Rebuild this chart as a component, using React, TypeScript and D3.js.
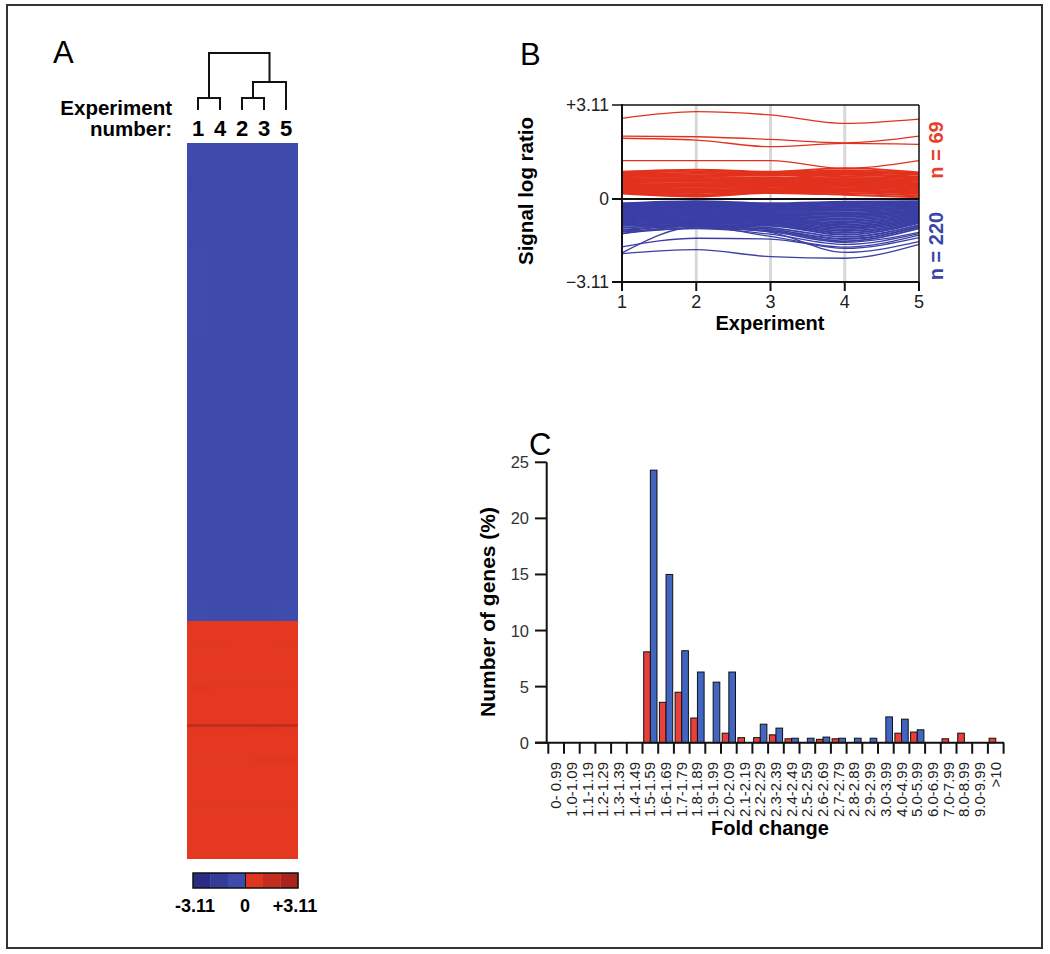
import React from "react";
import * as d3 from "d3";

const FONT = '"Liberation Sans", Arial, Helvetica, sans-serif';
const NARROW = '"Liberation Sans Narrow", "Liberation Sans", Arial, sans-serif';

// ---------- Panel A data ----------
const heatCols = ["1", "4", "2", "3", "5"];
type Tree = { name?: string; h: number; children?: Tree[] };
const dendrogram: Tree = {
  h: 1.0,
  children: [
    { h: 0.21, children: [{ name: "1", h: 0 }, { name: "4", h: 0 }] },
    {
      h: 0.49,
      children: [
        { h: 0.21, children: [{ name: "2", h: 0 }, { name: "3", h: 0 }] },
        { name: "5", h: 0 },
      ],
    },
  ],
};
const blueRowGroups = [
  { v: [-0.52, -0.52, -0.5, -0.52, -0.52], n: 18 },
  { v: [-0.58, -0.55, -0.52, -0.56, -0.52], n: 4 },
  { v: [-0.5, -0.52, -0.5, -0.5, -0.52], n: 24 },
  { v: [-0.6, -0.62, -0.5, -0.55, -0.58], n: 3 },
  { v: [-0.48, -0.5, -0.52, -0.5, -0.5], n: 40 },
  { v: [-0.55, -0.52, -0.5, -0.58, -0.55], n: 5 },
  { v: [-0.5, -0.5, -0.5, -0.52, -0.5], n: 60 },
  { v: [-0.56, -0.54, -0.52, -0.55, -0.55], n: 4 },
  { v: [-0.5, -0.52, -0.5, -0.5, -0.5], n: 50 },
  { v: [-0.55, -0.5, -0.52, -0.54, -0.52], n: 4 },
  { v: [-0.48, -0.5, -0.5, -0.5, -0.48], n: 8 },
];
const redRowGroups = [
  { v: [0.32, 0.3, 0.3, 0.32, 0.3], n: 6 },
  { v: [0.36, 0.34, 0.32, 0.3, 0.34], n: 2 },
  { v: [0.3, 0.3, 0.32, 0.3, 0.32], n: 10 },
  { v: [0.4, 0.36, 0.34, 0.38, 0.36], n: 2 },
  { v: [0.3, 0.32, 0.3, 0.3, 0.3], n: 10 },
  { v: [1.6, 1.5, 1.55, 1.6, 1.5], n: 1 },
  { v: [0.36, 0.34, 0.36, 0.4, 0.36], n: 1 },
  { v: [0.3, 0.3, 0.3, 0.32, 0.3], n: 8 },
  { v: [0.38, 0.36, 0.34, 0.4, 0.42], n: 1 },
  { v: [0.3, 0.32, 0.3, 0.3, 0.3], n: 12 },
  { v: [0.36, 0.34, 0.34, 0.36, 0.34], n: 2 },
  { v: [0.3, 0.3, 0.3, 0.32, 0.3], n: 14 },
];
const colorbarSteps = [-2.59, -1.55, -0.52, 0.52, 1.55, 2.59];
const colorbarLabels = [
  { v: -3.11, t: "-3.11" },
  { v: 0, t: "0" },
  { v: 3.11, t: "+3.11" },
];

// ---------- Panel B data ----------
const experiments = [1, 2, 3, 4, 5];
const redOutliers = [
  [2.67, 2.89, 2.78, 2.5, 2.64],
  [2.08, 2.06, 1.97, 1.86, 2.08],
  [2.01, 1.95, 1.73, 1.84, 1.81],
  [1.27, 1.27, 1.27, 1.01, 1.27],
];
const redBand = [
  [0.9, 0.97, 0.9, 1.02, 0.88],
  [0.86, 0.92, 0.87, 0.95, 0.85],
  [0.83, 0.86, 0.84, 0.9, 0.8],
  [0.8, 0.83, 0.8, 0.86, 0.82],
  [0.76, 0.78, 0.77, 0.82, 0.74],
  [0.72, 0.75, 0.7, 0.8, 0.7],
  [0.69, 0.7, 0.68, 0.74, 0.66],
  [0.65, 0.66, 0.64, 0.7, 0.62],
  [0.62, 0.6, 0.62, 0.66, 0.6],
  [0.58, 0.57, 0.58, 0.62, 0.55],
  [0.55, 0.52, 0.54, 0.6, 0.52],
  [0.51, 0.48, 0.5, 0.56, 0.48],
  [0.48, 0.45, 0.47, 0.52, 0.44],
  [0.44, 0.4, 0.44, 0.48, 0.4],
  [0.41, 0.36, 0.4, 0.44, 0.37],
  [0.37, 0.32, 0.36, 0.4, 0.33],
  [0.34, 0.28, 0.33, 0.36, 0.3],
  [0.3, 0.24, 0.3, 0.32, 0.26],
  [0.27, 0.2, 0.27, 0.28, 0.22],
  [0.24, 0.15, 0.24, 0.25, 0.17],
  [0.21, 0.1, 0.22, 0.2, 0.12],
  [0.18, 0.08, 0.2, 0.14, 0.06],
];
const blueBand = [
  [-0.16, -0.08, -0.16, -0.1, -0.08],
  [-0.2, -0.1, -0.19, -0.13, -0.1],
  [-0.24, -0.12, -0.22, -0.16, -0.12],
  [-0.28, -0.15, -0.26, -0.2, -0.15],
  [-0.31, -0.19, -0.3, -0.25, -0.19],
  [-0.35, -0.23, -0.33, -0.29, -0.22],
  [-0.38, -0.27, -0.37, -0.34, -0.26],
  [-0.42, -0.31, -0.41, -0.39, -0.3],
  [-0.45, -0.35, -0.44, -0.44, -0.33],
  [-0.49, -0.39, -0.48, -0.5, -0.37],
  [-0.52, -0.43, -0.52, -0.55, -0.41],
  [-0.56, -0.47, -0.55, -0.6, -0.44],
  [-0.59, -0.51, -0.59, -0.66, -0.48],
  [-0.63, -0.55, -0.63, -0.72, -0.52],
  [-0.66, -0.59, -0.66, -0.78, -0.55],
  [-0.7, -0.63, -0.7, -0.84, -0.59],
  [-0.73, -0.67, -0.74, -0.9, -0.63],
  [-0.77, -0.71, -0.77, -0.96, -0.66],
  [-0.8, -0.75, -0.81, -1.02, -0.7],
  [-0.84, -0.79, -0.85, -1.08, -0.74],
  [-0.88, -0.83, -0.88, -1.14, -0.78],
  [-0.92, -0.88, -0.92, -1.2, -0.82],
  [-0.96, -0.92, -0.96, -1.27, -0.86],
  [-1.0, -0.97, -1.0, -1.34, -0.9],
  [-1.08, -0.98, -1.08, -1.42, -0.98],
  [-1.15, -1.02, -1.14, -1.5, -1.04],
  [-1.22, -1.1, -1.2, -1.58, -1.1],
];
const blueOutliers = [
  [-2.05, -1.9, -2.16, -2.22, -1.7],
  [-2.02, -1.05, -1.25, -2.0, -1.6],
  [-1.79, -1.47, -1.5, -1.85, -1.45],
  [-1.31, -1.02, -1.4, -1.8, -1.35],
  [-1.22, -0.92, -1.22, -1.62, -1.25],
  [-1.28, -1.1, -1.32, -1.7, -1.3],
];
const signalTicks = [
  { v: 3.11, t: "+3.11" },
  { v: 0, t: "0" },
  { v: -3.11, t: "\u22123.11" },
];

// ---------- Panel C data ----------
const foldLabels = [
  "0- 0.99", "1.0-1.09", "1.1-1.19", "1.2-1.29", "1.3-1.39", "1.4-1.49",
  "1.5-1.59", "1.6-1.69", "1.7-1.79", "1.8-1.89", "1.9-1.99", "2.0-2.09",
  "2.1-2.19", "2.2-2.29", "2.3-2.39", "2.4-2.49", "2.5-2.59", "2.6-2.69",
  "2.7-2.79", "2.8-2.89", "2.9-2.99", "3.0-3.99", "4.0-4.99", "5.0-5.99",
  "6.0-6.99", "7.0-7.99", "8.0-8.99", "9.0-9.99", ">10",
];
const upPct = [0, 0, 0, 0, 0, 0, 8.1, 3.6, 4.5, 2.2, 0, 0.85, 0.45, 0.45, 0.7, 0.35, 0, 0.3, 0.35, 0, 0, 0, 0.85, 0.95, 0, 0.35, 0.85, 0, 0.4];
const downPct = [0, 0, 0, 0, 0, 0, 24.3, 15.0, 8.2, 6.3, 5.4, 6.3, 0, 1.65, 1.3, 0.4, 0.4, 0.5, 0.4, 0.4, 0.4, 2.3, 2.1, 1.15, 0, 0, 0, 0, 0];
const pctTicks = [0, 5, 10, 15, 20, 25];
const seriesKeys = ["up", "down"];

const RED = "#e2321e";
const BLUE = "#3b3fa5";

function layoutTree(node: Tree, xOf: (n: string) => number): any {
  if (!node.children) return { x: xOf(node.name!), h: node.h, kids: [] };
  const kids = node.children.map((c) => layoutTree(c, xOf));
  return { x: d3.mean(kids, (k: any) => k.x), h: node.h, kids };
}
function collect(n: any, out: any[]) {
  if (n.kids.length) {
    out.push(n);
    n.kids.forEach((k: any) => collect(k, out));
  }
  return out;
}

export default function App() {
  // ---- Panel A ----
  const colX = d3.scaleBand<string>().domain(heatCols).range([187, 297]);
  const cx = (n: string) => (colX(n) as number) + colX.bandwidth() / 2;
  const dendY = d3.scaleLinear().domain([0, 1]).range([110, 53]);
  const tree = layoutTree(dendrogram, cx);
  const internal = collect(tree, []);

  const heatColor = d3
    .scaleLinear<string>()
    .domain([-3.11, -0.001, 0.001, 3.11])
    .range(["#26237a", "#4453b6", "#ec3b20", "#9a1f1c"]);
  const blueTotal = d3.sum(blueRowGroups, (g) => g.n);
  const redTotal = d3.sum(redRowGroups, (g) => g.n);
  const blueY = d3.scaleLinear().domain([0, blueTotal]).range([143, 621]);
  const redY = d3.scaleLinear().domain([0, redTotal]).range([621, 858]);
  const rowRects = (groups: typeof blueRowGroups, ys: d3.ScaleLinear<number, number>, key: string) => {
    let cum = 0;
    const out: JSX.Element[] = [];
    groups.forEach((g, gi) => {
      const y0 = ys(cum);
      const y1 = ys(cum + g.n);
      cum += g.n;
      g.v.forEach((val, ci) => {
        out.push(
          <rect
            key={`${key}-${gi}-${ci}`}
            x={colX(heatCols[ci])}
            y={y0}
            width={colX.bandwidth() + 0.5}
            height={y1 - y0 + 0.5}
            fill={heatColor(val)}
          />
        );
      });
    });
    return out;
  };
  const cbX = d3.scaleBand<number>().domain(colorbarSteps).range([193, 298]);
  const cbLin = d3.scaleLinear().domain([-3.11, 3.11]).range([195, 295]);

  // ---- Panel B ----
  const bx = d3.scaleLinear().domain([1, 5]).range([622, 919]);
  const by = d3.scaleLinear().domain([-3.11, 0, 3.11]).range([282, 199, 105]);
  const line = d3
    .line<number>()
    .x((_, i) => bx(experiments[i]))
    .y((d) => by(d))
    .curve(d3.curveMonotoneX);

  // ---- Panel C ----
  const cx0 = d3.scaleBand<string>().domain(foldLabels).range([548.3, 1003.6]).padding(0);
  const cx1 = d3.scaleBand<string>().domain(seriesKeys).range([1.2, cx0.bandwidth() - 1.2]).padding(0);
  const cy = d3.scaleLinear().domain([0, 25]).range([742.7, 462.3]);
  const bars: { k: string; cat: string; v: number }[] = [];
  foldLabels.forEach((c, i) => {
    if (upPct[i] > 0) bars.push({ k: "up", cat: c, v: upPct[i] });
    if (downPct[i] > 0) bars.push({ k: "down", cat: c, v: downPct[i] });
  });

  return (
    <svg
      width={1050}
      height={954}
      style={{ position: "absolute", left: 0, top: 0, background: "#fff" }}
      fontFamily={FONT}
    >
      <rect x={0} y={0} width={1050} height={954} fill="#fff" />
      <rect x={7} y={5} width={1035} height={943} fill="none" stroke="#333" strokeWidth={2} />

      {/* Panel labels */}
      <text x={53} y={63} fontFamily={NARROW} fontSize={31}>A</text>
      <text x={520} y={65} fontFamily={NARROW} fontSize={31}>B</text>
      <text x={529} y={455} fontFamily={NARROW} fontSize={31}>C</text>

      {/* ---- Panel A ---- */}
      <g fill="none" stroke="#111" strokeWidth={2}>
        {internal.map((n: any, i: number) => (
          <g key={i}>
            <line x1={n.kids[0].x} x2={n.kids[1].x} y1={dendY(n.h)} y2={dendY(n.h)} />
            {n.kids.map((k: any, j: number) => (
              <line key={j} x1={k.x} x2={k.x} y1={dendY(k.h)} y2={dendY(n.h) - 1} />
            ))}
          </g>
        ))}
      </g>
      <text x={172} y={115} textAnchor="end" fontWeight="bold" fontSize={20.5}>Experiment</text>
      <text x={172} y={136} textAnchor="end" fontWeight="bold" fontSize={20.5}>number:</text>
      {heatCols.map((c) => (
        <text key={c} x={cx(c)} y={136} textAnchor="middle" fontWeight="bold" fontSize={22}>
          {c}
        </text>
      ))}
      <g shapeRendering="crispEdges">
        {rowRects(blueRowGroups, blueY, "b")}
        {rowRects(redRowGroups, redY, "r")}
      </g>
      {/* colorbar */}
      <g>
        {colorbarSteps.map((s) => (
          <rect key={s} x={cbX(s)} y={873} width={cbX.bandwidth() + 0.3} height={15} fill={heatColor(s)} />
        ))}
        <rect x={193} y={873} width={105} height={15} fill="none" stroke="#111" strokeWidth={1.5} />
        <line x1={245.5} x2={245.5} y1={873} y2={888} stroke="#111" strokeWidth={1} />
        {colorbarLabels.map((l) => (
          <text key={l.t} x={cbLin(l.v)} y={912} textAnchor="middle" fontWeight="bold" fontSize={18}>
            {l.t}
          </text>
        ))}
      </g>

      {/* ---- Panel B ---- */}
      <g>
        {[2, 3, 4].map((e) => (
          <line key={e} x1={bx(e)} x2={bx(e)} y1={105} y2={282} stroke="#d8d8d8" strokeWidth={3} />
        ))}
        <g fill="none" strokeWidth={1.9}>
          {redBand.map((d, i) => (
            <path key={"rb" + i} d={line(d) as string} stroke={RED} />
          ))}
          {redOutliers.map((d, i) => (
            <path key={"ro" + i} d={line(d) as string} stroke={RED} strokeWidth={1.3} />
          ))}
          {blueBand.map((d, i) => (
            <path key={"bb" + i} d={line(d) as string} stroke={BLUE} />
          ))}
          {blueOutliers.map((d, i) => (
            <path key={"bo" + i} d={line(d) as string} stroke={BLUE} strokeWidth={1.3} />
          ))}
        </g>
        <g stroke="#111" strokeWidth={2} fill="none">
          <line x1={622} x2={622} y1={104} y2={283} />
          <line x1={612} x2={919} y1={282} y2={282} />
          <line x1={612} x2={919} y1={199} y2={199} />
          <line x1={612} x2={919} y1={105} y2={105} strokeWidth={1.5} />
          <line x1={919} x2={919} y1={105} y2={282} strokeWidth={1.5} />
          {experiments.map((e) => (
            <line key={e} x1={bx(e)} x2={bx(e)} y1={282} y2={291} />
          ))}
        </g>
        {signalTicks.map((t) => (
          <text key={t.t} x={609} y={by(t.v) + 6} textAnchor="end" fontSize={17.5} fill="#222">
            {t.t}
          </text>
        ))}
        {experiments.map((e) => (
          <text key={e} x={bx(e)} y={308} textAnchor="middle" fontSize={18} fill="#222">
            {e}
          </text>
        ))}
        <text x={770} y={330} textAnchor="middle" fontWeight="bold" fontSize={20}>Experiment</text>
        <text
          transform={`translate(533,191) rotate(-90)`}
          textAnchor="middle"
          fontWeight="bold"
          fontSize={20.5}
        >
          Signal log ratio
        </text>
        <text transform={`translate(943,150) rotate(-90)`} textAnchor="middle" fontWeight="bold" fontSize={20} fill="#e8402a">
          n = 69
        </text>
        <text transform={`translate(943,246) rotate(-90)`} textAnchor="middle" fontWeight="bold" fontSize={20} fill="#3a46a8">
          n = 220
        </text>
      </g>

      {/* ---- Panel C ---- */}
      <g>
        {bars.map((b, i) => (
          <rect
            key={i}
            x={(cx0(b.cat) as number) + (cx1(b.k) as number)}
            y={cy(b.v)}
            width={cx1.bandwidth()}
            height={cy(0) - cy(b.v)}
            fill={b.k === "up" ? "#e8403a" : "#4265c2"}
            stroke="#111"
            strokeWidth={1}
          />
        ))}
        <g stroke="#111" strokeWidth={2}>
          <line x1={546.7} x2={546.7} y1={cy(25)} y2={cy(0) + 1} />
          <line x1={535} x2={1004} y1={cy(0)} y2={cy(0)} />
          {pctTicks.map((t) => (
            <line key={t} x1={535} x2={546.7} y1={cy(t)} y2={cy(t)} />
          ))}
          {[...foldLabels.map((c) => cx0(c) as number), 1003.6].map((x, i) => (
            <line key={i} x1={x} x2={x} y1={cy(0)} y2={cy(0) + 11} />
          ))}
        </g>
        {pctTicks.map((t) => (
          <text key={t} x={529} y={cy(t) + 6} textAnchor="end" fontSize={16.5} fill="#333">
            {t}
          </text>
        ))}
        {foldLabels.map((c) => (
          <text
            key={c}
            transform={`translate(${(cx0(c) as number) + cx0.bandwidth() / 2 + 5},${762}) rotate(-90)`}
            textAnchor="end"
            fontSize={15}
            fill="#222"
          >
            {c}
          </text>
        ))}
        <text x={770} y={835} textAnchor="middle" fontWeight="bold" fontSize={20}>Fold change</text>
        <text
          transform={`translate(495,612) rotate(-90)`}
          textAnchor="middle"
          fontWeight="bold"
          fontSize={21}
        >
          Number of genes (%)
        </text>
      </g>
    </svg>
  );
}
